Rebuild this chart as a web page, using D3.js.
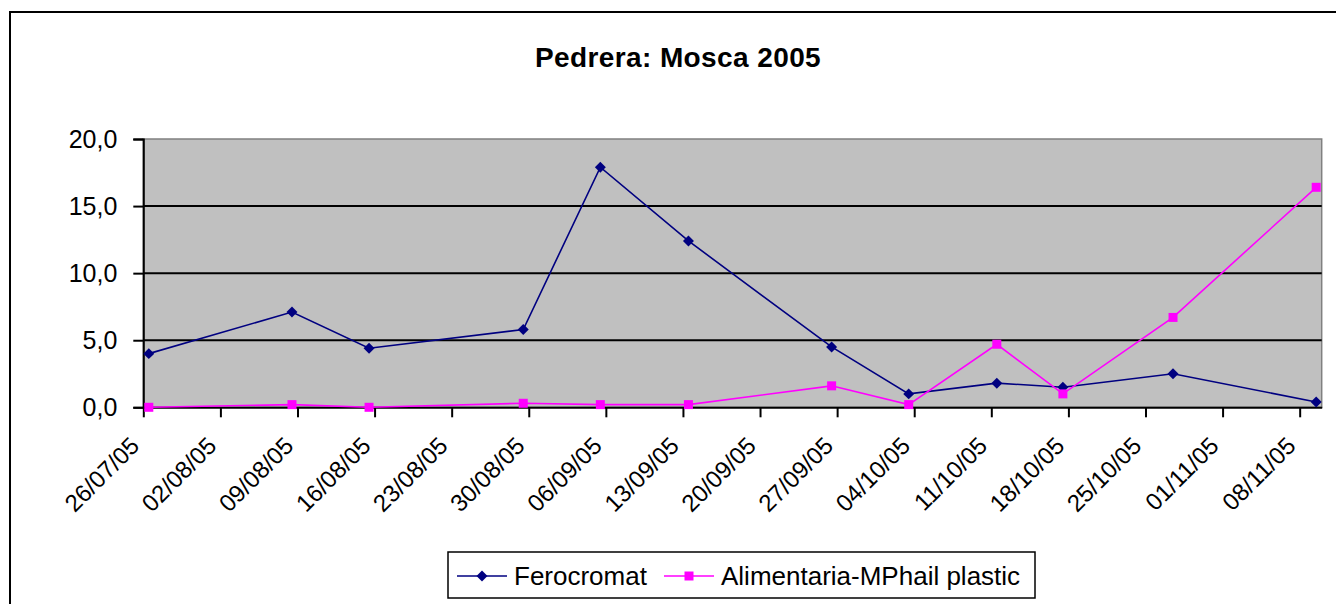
<!DOCTYPE html>
<html>
<head>
<meta charset="utf-8">
<script src="https://cdn.jsdelivr.net/npm/d3@7"></script>
<style>
  body { margin: 0; background: #fff; }
  text { font-family: "Liberation Sans", Arial, sans-serif; }
</style>
</head>
<body>
<svg id="chart"></svg>
<script>
// Chart data
const sampleDates = ["26/07/05", "08/08/05", "15/08/05", "29/08/05", "05/09/05", "13/09/05",
  "26/09/05", "03/10/05", "11/10/05", "17/10/05", "27/10/05", "09/11/05"];
const ferocromat = [4.0, 7.1, 4.4, 5.8, 17.9, 12.4, 4.5, 1.0, 1.8, 1.5, 2.5, 0.4];
const alimentaria = [0.0, 0.2, 0.0, 0.3, 0.2, 0.2, 1.6, 0.2, 4.7, 1.0, 6.7, 16.4];
const seriesNames = ["Ferocromat", "Alimentaria-MPhail plastic"];
const seriesColors = ["#000080", "#ff00ff"];
const yTicks = [0, 5, 10, 15, 20];
const xTickLabels = ["26/07/05", "02/08/05", "09/08/05", "16/08/05", "23/08/05", "30/08/05",
  "06/09/05", "13/09/05", "20/09/05", "27/09/05", "04/10/05", "11/10/05", "18/10/05",
  "25/10/05", "01/11/05", "08/11/05"];
const axisEnd = "10/11/05";

const W = 1336, H = 604;
const plot = { left: 143.3, top: 139, right: 1321.7, bottom: 407.3 };

const parse = d3.utcParse("%d/%m/%y");
const halfDay = 12 * 3600 * 1000;

const svg = d3.select("#chart")
  .attr("width", W)
  .attr("height", H);

// Outer chart border
svg.append("rect")
  .attr("x", 10).attr("y", 12)
  .attr("width", W).attr("height", H)
  .attr("fill", "none")
  .attr("stroke", "#000")
  .attr("stroke-width", 2);

// Title
svg.append("text")
  .attr("x", 678).attr("y", 67)
  .attr("text-anchor", "middle")
  .attr("font-size", 28)
  .attr("font-weight", "bold")
  .attr("letter-spacing", 0.4)
  .text("Pedrera: Mosca 2005");

// Scales
const xScale = d3.scaleUtc()
  .domain([parse(xTickLabels[0]), parse(axisEnd)])
  .range([plot.left, plot.right]);

const yScale = d3.scaleLinear()
  .domain([0, 20])
  .range([plot.bottom, plot.top]);

// Plot background
svg.append("rect")
  .attr("x", plot.left).attr("y", plot.top)
  .attr("width", plot.right - plot.left)
  .attr("height", plot.bottom - plot.top)
  .attr("fill", "#c0c0c0")
  .attr("stroke", "#808080")
  .attr("stroke-width", 1.5);

// Gridlines
svg.append("g")
  .selectAll("line")
  .data(yTicks.filter(d => d > 0 && d < 20))
  .enter().append("line")
  .attr("x1", plot.left).attr("x2", plot.right)
  .attr("y1", d => yScale(d)).attr("y2", d => yScale(d))
  .attr("stroke", "#000")
  .attr("stroke-width", 2);

// Y axis
const yAxis = d3.axisLeft(yScale)
  .tickValues(yTicks)
  .tickSize(10)
  .tickPadding(16)
  .tickFormat(d => d3.format(".1f")(d).replace(".", ","));

const yg = svg.append("g")
  .attr("transform", "translate(" + plot.left + ",0)")
  .call(yAxis);
yg.select(".domain").attr("stroke", "#000").attr("stroke-width", 2);
yg.selectAll(".tick line").attr("stroke-width", 2);
yg.selectAll("text")
  .attr("font-size", 25)
  .attr("fill", "#000")
  .attr("font-family", "\"Liberation Sans\", Arial, sans-serif");

// X axis
const xAxis = d3.axisBottom(xScale)
  .tickValues(xTickLabels.map(parse))
  .tickSize(10)
  .tickSizeOuter(0)
  .tickFormat(d3.utcFormat("%d/%m/%y"));

const xg = svg.append("g")
  .attr("transform", "translate(0," + plot.bottom + ")")
  .call(xAxis);
xg.select(".domain").attr("stroke", "#000").attr("stroke-width", 2);
xg.selectAll(".tick line").attr("stroke-width", 2);
xg.selectAll("text")
  .attr("font-size", 24)
  .attr("fill", "#000")
  .attr("font-family", "\"Liberation Sans\", Arial, sans-serif")
  .attr("text-anchor", "end")
  .attr("x", 0).attr("y", 0).attr("dy", 0)
  .attr("transform", "translate(-3,40) rotate(-45)");

// Series
const series = [ferocromat, alimentaria].map((vals, i) => ({
  name: seriesNames[i],
  color: seriesColors[i],
  points: vals.map((v, j) => ({ date: new Date(parse(sampleDates[j]).getTime() + halfDay), value: v }))
}));

const line = d3.line()
  .x(d => xScale(d.date))
  .y(d => yScale(d.value));

// diamond = square turned 45 degrees, square marker for the second series
const markerSize = [60, 81];
const markerTurn = [45, 0];

series.forEach((s, i) => {
  svg.append("path")
    .datum(s.points)
    .attr("fill", "none")
    .attr("stroke", s.color)
    .attr("stroke-width", 1.6)
    .attr("d", line);

  svg.append("g")
    .selectAll("path")
    .data(s.points)
    .enter().append("path")
    .attr("transform", d => "translate(" + xScale(d.date) + "," + yScale(d.value) + ") rotate(" + markerTurn[i] + ")")
    .attr("d", d3.symbol().type(d3.symbolSquare).size(markerSize[i]))
    .attr("fill", s.color);
});

// Legend
const legend = svg.append("g");
legend.append("rect")
  .attr("x", 448).attr("y", 552)
  .attr("width", 587).attr("height", 46)
  .attr("fill", "#fff")
  .attr("stroke", "#000")
  .attr("stroke-width", 1.5);

const legendX = [457, 664];
series.forEach((s, i) => {
  const lx = legendX[i];
  legend.append("line")
    .attr("x1", lx).attr("x2", lx + 50)
    .attr("y1", 576).attr("y2", 576)
    .attr("stroke", s.color)
    .attr("stroke-width", 1.6);
  legend.append("path")
    .attr("transform", "translate(" + (lx + 25) + ",576) rotate(" + markerTurn[i] + ")")
    .attr("d", d3.symbol().type(d3.symbolSquare).size(markerSize[i]))
    .attr("fill", s.color);
  legend.append("text")
    .attr("x", lx + 57).attr("y", 585)
    .attr("font-size", 26)
    .text(s.name);
});
</script>
</body>
</html>
